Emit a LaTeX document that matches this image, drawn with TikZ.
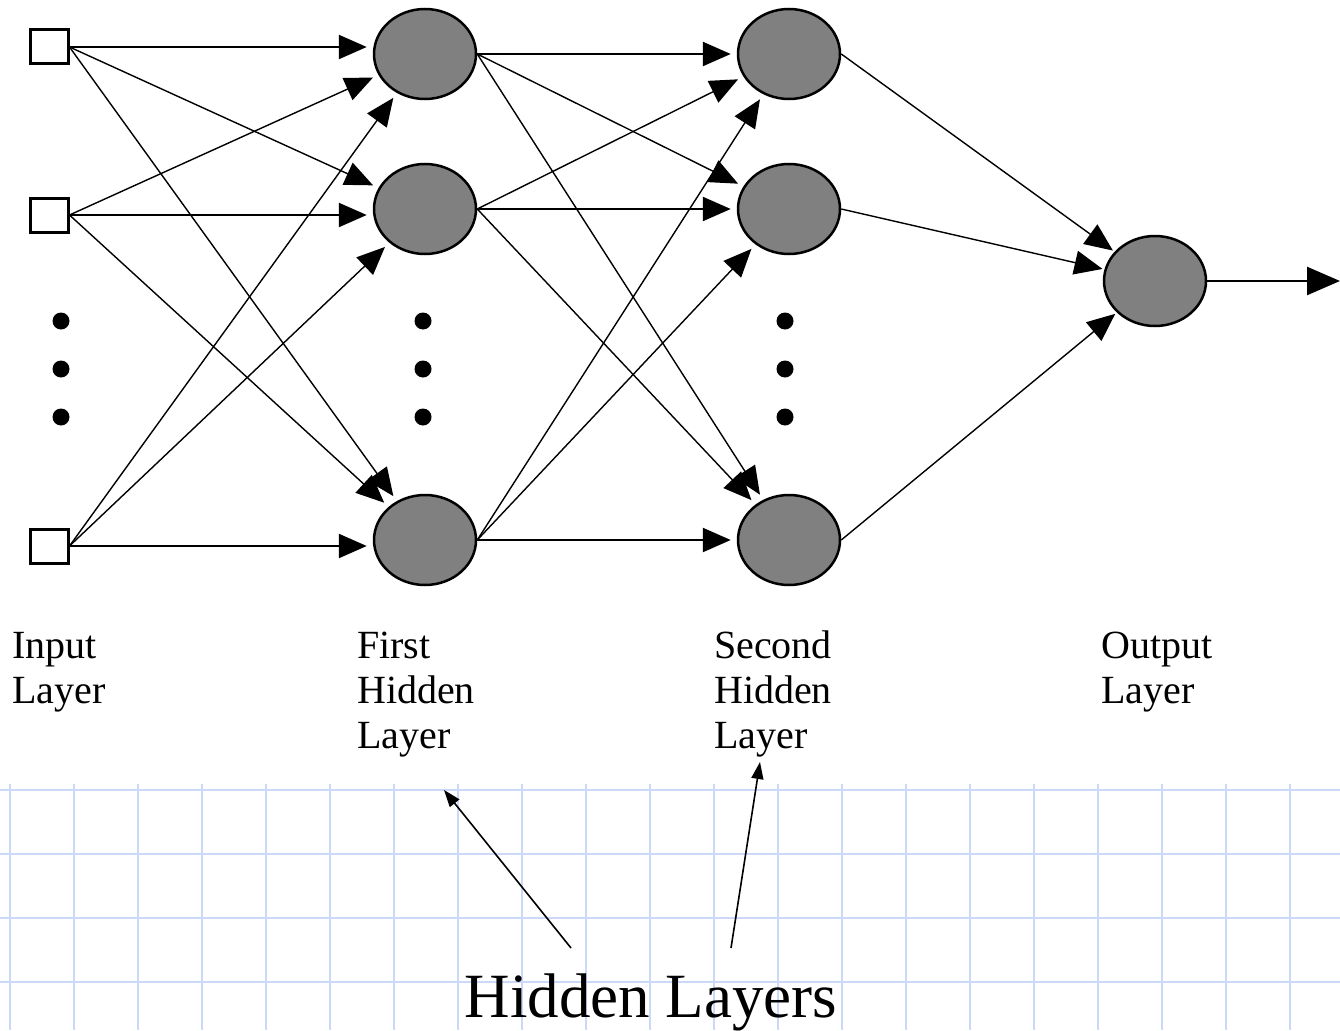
\documentclass[tikz,border=0pt]{standalone}
\usepackage{fontspec}
\setmainfont{Liberation Serif}
\usetikzlibrary{shapes.geometric,arrows.meta}
\definecolor{gridblue}{RGB}{204,216,250}
\definecolor{neurongray}{RGB}{128,128,128}
\begin{document}
\begin{tikzpicture}[x=1pt,y=-1pt,
  inbox/.style={draw,line width=3pt,fill=white,minimum width=38pt,minimum height=34pt,inner sep=0pt},
  neuron/.style={ellipse,draw,line width=2.5pt,fill=neurongray,minimum width=102pt,minimum height=90pt,inner sep=0pt},
  edge/.style={line width=1.4pt,-{Triangle[length=28pt,width=24pt]},shorten >=6pt},
  hedge/.style={edge,line width=2.5pt},
  dotnode/.style={circle,fill=black,minimum size=17pt,inner sep=0pt},
  lbl/.style={anchor=base west,inner sep=0pt,font=\fontsize{40}{44}\selectfont},
  gridline/.style={line width=2pt,draw=gridblue},
  lblarrow/.style={line width=1.6pt,-{Triangle[length=17pt,width=12pt]}}
]
\useasboundingbox (0,0) rectangle (1340,1030);
% grid
\foreach \y in {790,854,918,982} \draw[gridline] (0,\y) -- (1340,\y);
\foreach \k in {0,...,20} \draw[gridline] (10+64*\k,784) -- (10+64*\k,1030);

% nodes
\node[inbox] (in1) at (49,47) {};
\node[inbox] (in2) at (49,215) {};
\node[inbox] (in3) at (49,546) {};
\node[neuron] (h11) at (425,54) {};
\node[neuron] (h12) at (425,209) {};
\node[neuron] (h13) at (425,540) {};
\node[neuron] (h21) at (789,54) {};
\node[neuron] (h22) at (789,209) {};
\node[neuron] (h23) at (789,540) {};
\node[neuron] (out) at (1155,281) {};
\coordinate (oend) at (1340,281);

% dots
\foreach \x/\n in {61/a,423/b,785/c}{
  \node[dotnode] (dot\n1) at (\x,321) {};
  \node[dotnode] (dot\n2) at (\x,369) {};
  \node[dotnode] (dot\n3) at (\x,417) {};
}

% input -> first hidden
\foreach \i in {1,2,3}{
  \foreach \j in {1,2,3}{
    \ifnum\i=\j
      \draw[hedge] (in\i.east) -- (in\i.east -| h1\j.west);
    \else
      \draw[edge] (in\i.east) -- (h1\j);
    \fi
  }
}
% first hidden -> second hidden
\foreach \i in {1,2,3}{
  \foreach \j in {1,2,3}{
    \ifnum\i=\j
      \draw[hedge] (h1\i.east) -- (h2\j.west);
    \else
      \draw[edge] (h1\i.east) -- (h2\j);
    \fi
  }
}
% second hidden -> output
\foreach \i in {1,2,3}{
  \draw[edge,shorten >=2pt] (h2\i.east) -- (out);
}
\draw[line width=2.5pt,-{Triangle[length=33pt,width=28pt]}] (out) -- (oend);

% labels
\node[lbl] (inl1) at (12,658) {Input};
\node[lbl] (inl2) at (12,703) {Layer};
\node[lbl] (fl1) at (357,658) {First};
\node[lbl] (fl2) at (357,703) {Hidden};
\node[lbl] (fl3) at (357,748) {Layer};
\node[lbl] (sl1) at (714,658) {Second};
\node[lbl] (sl2) at (714,703) {Hidden};
\node[lbl] (sl3) at (714,748) {Layer};
\node[lbl] (ol1) at (1101,658) {Output};
\node[lbl] (ol2) at (1101,703) {Layer};

\node[anchor=base,inner sep=0pt,font=\fontsize{63}{70}\selectfont] (hl) at (651,1017) {Hidden Layers};
\coordinate (s1) at (571,948);
\coordinate (t1) at (444,790);
\coordinate (s2) at (731,948);
\coordinate (t2) at (760,762);
\draw[lblarrow] (s1) -- (t1);
\draw[lblarrow] (s2) -- (t2);
\end{tikzpicture}
\end{document}
